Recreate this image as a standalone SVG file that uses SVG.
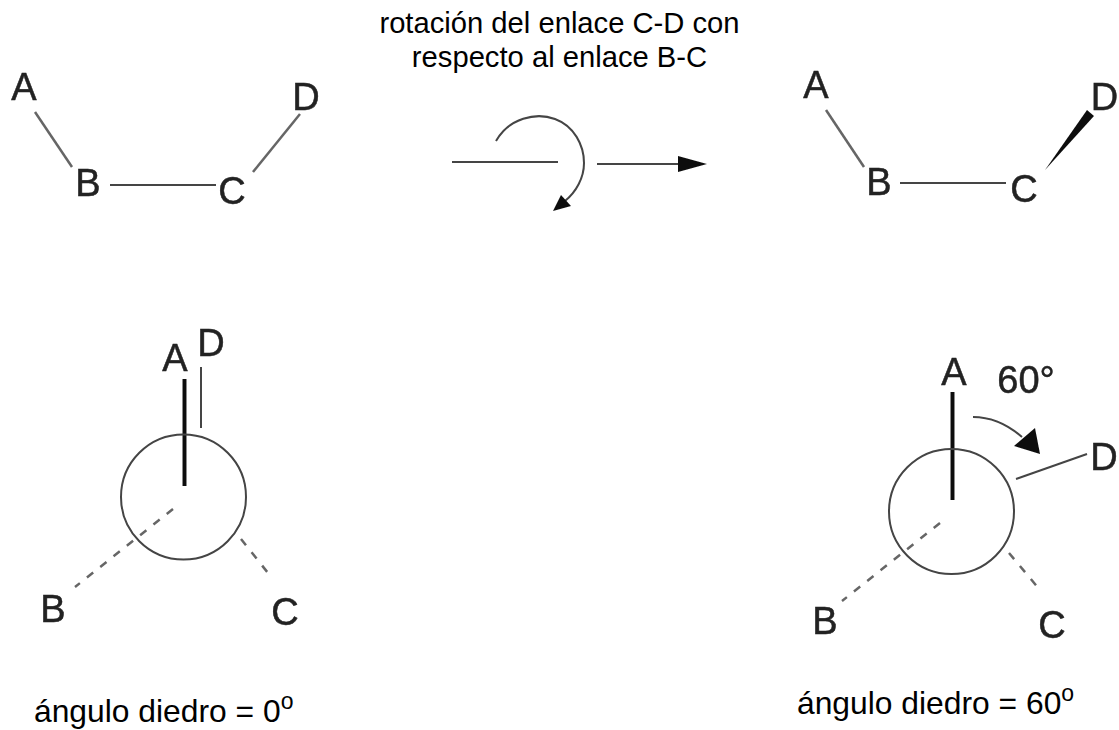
<svg xmlns="http://www.w3.org/2000/svg" width="1119" height="730" viewBox="0 0 1119 730">
<defs><filter id="soft" x="-5%" y="-5%" width="110%" height="110%"><feGaussianBlur stdDeviation="0.6"/></filter></defs>
<style>
text{font-family:"Liberation Sans",Arial,sans-serif;fill:#000}
.cap{font-size:29.2px;text-anchor:middle}
.eq{font-size:31.8px}
.sup{font-size:23px}
.lab{font-size:38px;fill:#222;stroke:#222;stroke-width:0.5;text-anchor:middle}
line,path,circle{fill:none;stroke:#444;stroke-width:2}
.lite{stroke:#666;stroke-width:2.500}
.bold{stroke:#111;stroke-width:4}
.dash{stroke:#666;stroke-width:2.500;stroke-dasharray:8 9}
.head{fill:#111;stroke:none}
</style>
<rect width="1119" height="730" fill="#fff"/>
<g id="connectors" filter="url(#soft)">
<line class="lite" x1="35" y1="112" x2="72" y2="167"/>
<line x1="110" y1="185" x2="216" y2="185"/>
<line class="lite" x1="253" y1="172" x2="300" y2="114"/>
<line class="lite" x1="826" y1="110" x2="864" y2="167"/>
<line x1="900" y1="183" x2="1006" y2="183"/>
<path class="head" d="M1045 170L1087 110L1094 116Z"/>
<line x1="452" y1="162" x2="558" y2="162"/>
<path d="M496 141C509 118 536 112 555 119C574 126 584 145 584 163C584 178 576 192 565 201"/>
<path class="head" d="M553 211L561 195L571 206Z"/>
<line x1="597" y1="164" x2="682" y2="164"/>
<path class="head" d="M707 164L678 156L678 172Z"/>
<line class="bold" x1="184.500" y1="379" x2="184.500" y2="486"/>
<line x1="201" y1="367" x2="201" y2="428"/>
<line class="dash" x1="173" y1="509" x2="75" y2="587"/>
<line class="dash" x1="241" y1="539" x2="272" y2="578"/>
<line class="bold" x1="952.500" y1="392" x2="952.500" y2="500"/>
<line x1="1016" y1="479" x2="1087" y2="454"/>
<line class="dash" x1="940" y1="523" x2="842" y2="601"/>
<line class="dash" x1="1009" y1="553" x2="1040" y2="590"/>
<path d="M973 417C991 417 1007 424 1022 437"/>
<path class="head" d="M1035 428L1040 454L1014 446Z"/>
</g>
<g id="newman-left" filter="url(#soft)"><circle cx="183.500" cy="497" r="62.500"/></g>
<g id="newman-right" filter="url(#soft)"><circle cx="951.500" cy="511.500" r="62.500"/></g>
<g id="labels-top-left" filter="url(#soft)">
<text class="lab" x="24" y="100">A</text><text class="lab" x="88" y="196">B</text><text class="lab" x="232" y="204">C</text><text class="lab" x="306" y="110">D</text>
</g>
<g id="labels-top-right" filter="url(#soft)">
<text class="lab" x="816" y="98">A</text><text class="lab" x="879" y="195">B</text><text class="lab" x="1024" y="202">C</text><text class="lab" x="1104.500" y="110">D</text>
</g>
<g id="labels-left" filter="url(#soft)">
<text class="lab" x="175" y="371">A</text><text class="lab" x="211" y="356">D</text><text class="lab" x="53" y="622">B</text><text class="lab" x="285" y="625">C</text>
</g>
<g id="labels-right" filter="url(#soft)">
<text class="lab" x="954" y="385">A</text><text class="lab" x="1026" y="393">60°</text><text class="lab" x="1104" y="470">D</text><text class="lab" x="825" y="634">B</text><text class="lab" x="1052" y="638">C</text>
</g>
<g id="caption">
<text class="cap" x="559.500" y="33">rotación del enlace C-D con</text>
<text class="cap" x="559.500" y="67">respecto al enlace B-C</text>
</g>
<g id="angle-left"><text class="eq" x="34" y="722">ángulo diedro = 0<tspan class="sup" dy="-13">o</tspan></text></g>
<g id="angle-right"><text class="eq" x="797" y="714">ángulo diedro = 60<tspan class="sup" dy="-13">o</tspan></text></g>
</svg>
